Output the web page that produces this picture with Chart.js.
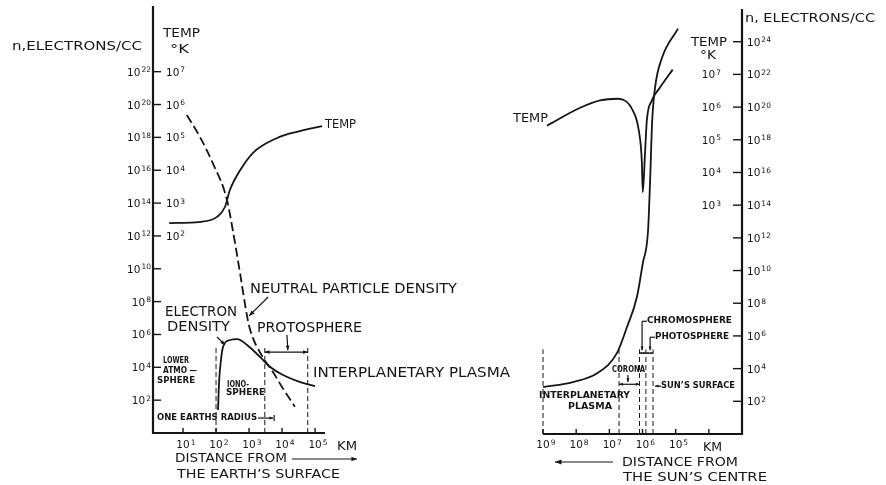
<!DOCTYPE html>
<html>
<head>
<meta charset="utf-8">
<script src="https://cdn.jsdelivr.net/npm/chart.js@4.4.1/dist/chart.umd.min.js"></script>
<style>
  html, body { margin: 0; padding: 0; background: #fff; }
  #wrap { position: relative; width: 886px; height: 485px; }
  canvas { position: absolute; left: 0; top: 0; }
</style>
</head>
<body>
<div id="wrap">
  <canvas id="earth" width="886" height="485"></canvas>
  <canvas id="sun" width="886" height="485"></canvas>
</div>
<script>
// ---- Earth: distance from the surface, km ----
var earthTempKm = [3.8, 33, 107, 186, 263, 537, 1320, 7100, 30000, 162000];
var earthTempK  = [246, 268, 380, 760, 2500, 1e4, 3.4e4, 9.6e4, 1.5e5, 2.2e5];
var neutralKm   = [13, 33, 81, 214, 331, 537, 871, 1070, 2630, 5000, 10700, 24500];
var neutralN    = [2.3e19, 1e18, 2.5e16, 1.6e14, 1.6e12, 5e9, 1.3e7, 2e6, 4e4, 6.3e3, 500, 40];
var electronKm  = [115, 123, 141, 162, 263, 437, 871, 2140, 4370, 10700, 35500, 100000];
var electronN   = [25, 1.1e3, 2.8e4, 1.7e5, 4.6e5, 5.2e5, 2.3e5, 4.3e4, 1.05e4, 3.4e3, 1.26e3, 720];
var earthBoundsKm = [100, 3000, 60000];

// ---- Sun: distance from the centre, km ----
var sunDensKm = [1e9, 1.26e8, 2.34e7, 5.9e6, 2.95e6, 1.48e6, 9.8e5, 6.8e5, 5.9e5, 5.1e5, 4.2e5, 2.6e5, 8.5e4];
var sunDensN  = [740, 1.5e3, 5.2e3, 8.9e4, 3.4e6, 2.3e8, 2.8e10, 2.8e12, 3.2e15, 1.5e19, 1.5e21, 1e23, 6.3e24];
var sunTempKm = [7.6e8, 7.6e7, 1.9e7, 5.5e6, 1.95e6, 1.29e6, 1.05e6, 9.8e5, 8.4e5, 7.4e5, 5.2e5, 3.0e5, 1.23e5];
var sunTempK  = [2.7e5, 9.5e5, 1.6e6, 1.8e6, 7.8e5, 1.9e5, 2.3e4, 2.5e3, 3.8e4, 3.9e5, 1.6e6, 3.9e6, 1.4e7];
var sunBoundsKm = [1e9, 5.1e6, 1.23e6, 7.9e5, 4.8e5];

var boundTopN = 1.5e5;

// tick exponents
var earthKmTicks = [1, 2, 3, 4, 5];
var sunKmTicks   = [9, 8, 7, 6, 5, 4];
var earthNTicks  = [2, 4, 6, 8, 10, 12, 14, 16, 18, 20, 22];
var earthTTicks  = [2, 3, 4, 5, 6, 7];
var sunNTicks    = [2, 4, 6, 8, 10, 12, 14, 16, 18, 20, 22, 24];
var sunTTicks    = [3, 4, 5, 6, 7];

var INK = '#151515';
var FONT = '"DejaVu Sans"';

function pts(xs, ys) {
  return xs.map(function (x, i) { return { x: x, y: ys[i] }; });
}

function boundSets(list) {
  return list.map(function (k) {
    return {
      data: [{ x: k, y: 1 }, { x: k, y: boundTopN }],
      borderDash: [5, 3], borderWidth: 1, clip: false,
      cubicInterpolationMode: 'default', tension: 0
    };
  });
}

// text squeezed/stretched to a given width, y is the middle
function txt(ctx, s, x, y, size, w, bold) {
  ctx.font = (bold ? 'bold ' : '') + size + 'px ' + FONT;
  var m = ctx.measureText(s).width;
  ctx.save();
  ctx.translate(x, y);
  ctx.scale(w ? w / m : 1, 1);
  ctx.textAlign = 'left';
  ctx.textBaseline = 'middle';
  ctx.fillStyle = INK;
  ctx.fillText(s, 0, 0);
  ctx.restore();
}

// "10" with raised exponent; y is the tick centre
function pow10(ctx, e, x, y, align) {
  ctx.font = '10.5px ' + FONT;
  var wb = ctx.measureText('10').width;
  ctx.font = '7.5px ' + FONT;
  var we = ctx.measureText(String(e)).width;
  var x0 = align === 'right' ? x - wb - we - 1 : (align === 'center' ? x - wb / 2 : x);
  ctx.fillStyle = INK;
  ctx.textAlign = 'left';
  ctx.textBaseline = 'alphabetic';
  ctx.font = '10.5px ' + FONT;
  ctx.fillText('10', x0, y + 4);
  ctx.font = '7.5px ' + FONT;
  ctx.fillText(String(e), x0 + wb + 1, y + 0.5);
}

function seg(ctx, x1, y1, x2, y2, w) {
  ctx.beginPath();
  ctx.lineWidth = w || 1.2;
  ctx.moveTo(x1, y1);
  ctx.lineTo(x2, y2);
  ctx.stroke();
}

function head(ctx, x1, y1, x2, y2, size) {
  var a = Math.atan2(y2 - y1, x2 - x1), s = size || 5;
  ctx.beginPath();
  ctx.moveTo(x2, y2);
  ctx.lineTo(x2 - s * Math.cos(a - 0.38), y2 - s * Math.sin(a - 0.38));
  ctx.lineTo(x2 - s * Math.cos(a + 0.38), y2 - s * Math.sin(a + 0.38));
  ctx.closePath();
  ctx.fill();
}

function arrow(ctx, p, q, size, both) {
  seg(ctx, p[0], p[1], q[0], q[1]);
  head(ctx, p[0], p[1], q[0], q[1], size);
  if (both) head(ctx, q[0], q[1], p[0], p[1], size);
}

function makePanel(id, cfg) {
  return new Chart(document.getElementById(id), {
    type: 'line',
    data: { datasets: cfg.datasets },
    options: {
      responsive: false,
      animation: false,
      devicePixelRatio: 1,
      layout: { padding: cfg.padding },
      plugins: { legend: { display: false }, tooltip: { enabled: false } },
      elements: {
        point: { radius: 0 },
        line: { borderColor: INK, borderWidth: 1.8, cubicInterpolationMode: 'monotone', fill: false }
      },
      scales: {
        x: { type: 'logarithmic', display: false, bounds: 'data', min: cfg.xMin, max: cfg.xMax, reverse: !!cfg.reverse },
        y: { type: 'logarithmic', display: false, bounds: 'data', min: 1, max: 1e26 },
        yT: { type: 'logarithmic', display: false, bounds: 'data', min: 1e-4, max: 1e9 }
      }
    },
    plugins: [{ id: 'frame', afterDatasetsDraw: cfg.draw }]
  });
}

// ---------- Earth panel ----------
var earthLabels = [
  ['n,ELECTRONS/CC', 12, 47, 13, 130],
  ['TEMP', 163, 34, 12, 37],
  ['\u00B0K', 170, 50, 12, 19],
  ['TEMP', 325, 125, 12, 31],
  ['NEUTRAL PARTICLE DENSITY', 250, 289, 14, 207],
  ['ELECTRON', 165, 312, 14, 72],
  ['DENSITY', 167, 327, 14, 63],
  ['PROTOSPHERE', 257, 328, 14, 105],
  ['INTERPLANETARY PLASMA', 313, 373, 14, 197],
  ['LOWER', 163, 361, 8, 26, true],
  ['ATMO \u2014', 163, 371, 8, 34, true],
  ['SPHERE', 157, 381, 8, 38, true],
  ['IONO-', 227, 385, 8, 22, true],
  ['SPHERE', 226, 393, 8, 39, true],
  ['ONE EARTHS RADIUS', 157, 418, 8, 100, true],
  ['KM', 337, 447, 12, 20],
  ['DISTANCE FROM', 175, 459, 12, 112],
  ['THE EARTH\u2019S SURFACE', 177, 475, 12, 163]
];

makePanel('earth', {
  padding: { left: 153, right: 563, top: 6, bottom: 52 },
  xMin: 1.23, xMax: 1.74e5,
  datasets: [
    { data: pts(earthTempKm, earthTempK), yAxisID: 'yT' },
    { data: pts(neutralKm, neutralN), borderDash: [9, 4] },
    { data: pts(electronKm, electronN) }
  ].concat(boundSets(earthBoundsKm)),
  draw: function (chart) {
    var ctx = chart.ctx, a = chart.chartArea;
    var sx = chart.scales.x, sy = chart.scales.y, sT = chart.scales.yT;
    function P(km, n) { return [sx.getPixelForValue(km), sy.getPixelForValue(n)]; }
    ctx.save();
    ctx.strokeStyle = INK; ctx.fillStyle = INK;
    // axes
    seg(ctx, a.left, a.top, a.left, a.bottom + 1, 2.2);
    seg(ctx, a.left - 1, a.bottom, a.right + 2, a.bottom, 2.2);
    earthNTicks.forEach(function (e) {
      var y = sy.getPixelForValue(Math.pow(10, e));
      seg(ctx, a.left, y, a.left + 8, y, 1.4);
      pow10(ctx, e, a.left - 2, y, 'right');
    });
    earthTTicks.forEach(function (e) {
      pow10(ctx, e, a.left + 13, sT.getPixelForValue(Math.pow(10, e)), 'left');
    });
    earthKmTicks.forEach(function (e) {
      var x = sx.getPixelForValue(Math.pow(10, e));
      seg(ctx, x, a.bottom, x, a.bottom - 5, 1.4);
      pow10(ctx, e, x, a.bottom + 11, 'center');
    });
    // pointers and spans
    arrow(ctx, P(3800, 1.9e8), P(1000, 1.35e7), 6);
    arrow(ctx, P(107, 7e5), P(186, 2.3e5), 5);
    arrow(ctx, P(1.4e4, 9.3e5), P(1.5e4, 1.1e5), 5);
    arrow(ctx, P(3000, 8.5e4), P(60000, 8.5e4), 5, true);
    var r1 = P(1860, 8.1), r2 = P(5370, 8.1);
    arrow(ctx, r1, r2, 4);
    seg(ctx, r2[0] + 1, r2[1] - 3, r2[0] + 1, r2[1] + 3, 1.2);
    // direction arrow under the axis
    arrow(ctx, [292, 459], [357, 459], 6);
    earthLabels.forEach(function (l) { txt(ctx, l[0], l[1], l[2], l[3], l[4], l[5]); });
    ctx.restore();
  }
});

// ---------- Sun panel ----------
var sunLabels = [
  ['n, ELECTRONS/CC', 745, 19, 13, 130],
  ['TEMP', 691, 43, 12, 36],
  ['\u00B0K', 700, 56, 12, 16],
  ['TEMP', 513, 119, 12, 35],
  ['INTERPLANETARY', 539, 396, 8, 91, true],
  ['PLASMA', 568, 407, 8, 44, true],
  ['CORONA', 612, 370, 8, 33, true],
  ['CHROMOSPHERE', 647, 321, 8, 85, true],
  ['PHOTOSPHERE', 655, 337, 8, 74, true],
  ['SUN\u2019S SURFACE', 661, 386, 8, 74, true],
  ['KM', 703, 448, 12, 19],
  ['DISTANCE FROM', 622, 463, 12, 116],
  ['THE SUN\u2019S CENTRE', 623, 478, 12, 144]
];

makePanel('sun', {
  padding: { left: 543, right: 144, top: 9, bottom: 51 },
  xMin: 1e3, xMax: 1e9, reverse: true,
  datasets: [
    { data: pts(sunTempKm, sunTempK), yAxisID: 'yT' },
    { data: pts(sunDensKm, sunDensN) }
  ].concat(boundSets(sunBoundsKm)),
  draw: function (chart) {
    var ctx = chart.ctx, a = chart.chartArea;
    var sx = chart.scales.x, sy = chart.scales.y, sT = chart.scales.yT;
    function P(km, n) { return [sx.getPixelForValue(km), sy.getPixelForValue(n)]; }
    ctx.save();
    ctx.strokeStyle = INK; ctx.fillStyle = INK;
    seg(ctx, a.right, a.top, a.right, a.bottom + 1, 2.2);
    seg(ctx, a.left, a.bottom, a.right + 1, a.bottom, 2.2);
    sunNTicks.forEach(function (e) {
      var y = sy.getPixelForValue(Math.pow(10, e));
      seg(ctx, a.right - 9, y, a.right, y, 1.4);
      pow10(ctx, e, a.right + 5, y, 'left');
    });
    sunTTicks.forEach(function (e) {
      pow10(ctx, e, a.right - 21, sT.getPixelForValue(Math.pow(10, e)), 'right');
    });
    sunKmTicks.forEach(function (e) {
      var x = sx.getPixelForValue(Math.pow(10, e));
      seg(ctx, x, a.bottom, x, a.bottom - 5, 1.4);
      if (e > 4) pow10(ctx, e, x, a.bottom + 10, 'center');
    });
    // corona span with its pointer
    arrow(ctx, P(5.1e6, 1.1e3), P(1.23e6, 1.1e3), 4, true);
    arrow(ctx, P(2.75e6, 4e3), P(2.75e6, 1.5e3), 4);
    // chromosphere and photosphere brackets
    var c1 = P(7.3e5, 7.9e6), c2 = P(1.03e6, 7.9e6), c3 = P(1.03e6, 1.35e5);
    seg(ctx, c1[0], c1[1], c2[0], c2[1]);
    arrow(ctx, c2, c3, 4);
    var p1 = P(4.2e5, 8.3e5), p2 = P(5.9e5, 8.3e5), p3 = P(5.9e5, 1.35e5);
    seg(ctx, p1[0], p1[1], p2[0], p2[1]);
    arrow(ctx, p2, p3, 4);
    arrow(ctx, P(1.23e6, 8.9e4), P(7.9e5, 8.9e4), 3, true);
    arrow(ctx, P(7.9e5, 8.9e4), P(4.8e5, 8.9e4), 3, true);
    // sun's surface pointer
    arrow(ctx, P(2.75e5, 850), P(4.2e5, 850), 4);
    // direction arrow under the axis
    arrow(ctx, [613, 462], [555, 462], 7);
    sunLabels.forEach(function (l) { txt(ctx, l[0], l[1], l[2], l[3], l[4], l[5]); });
    ctx.restore();
  }
});
</script>
</body>
</html>
